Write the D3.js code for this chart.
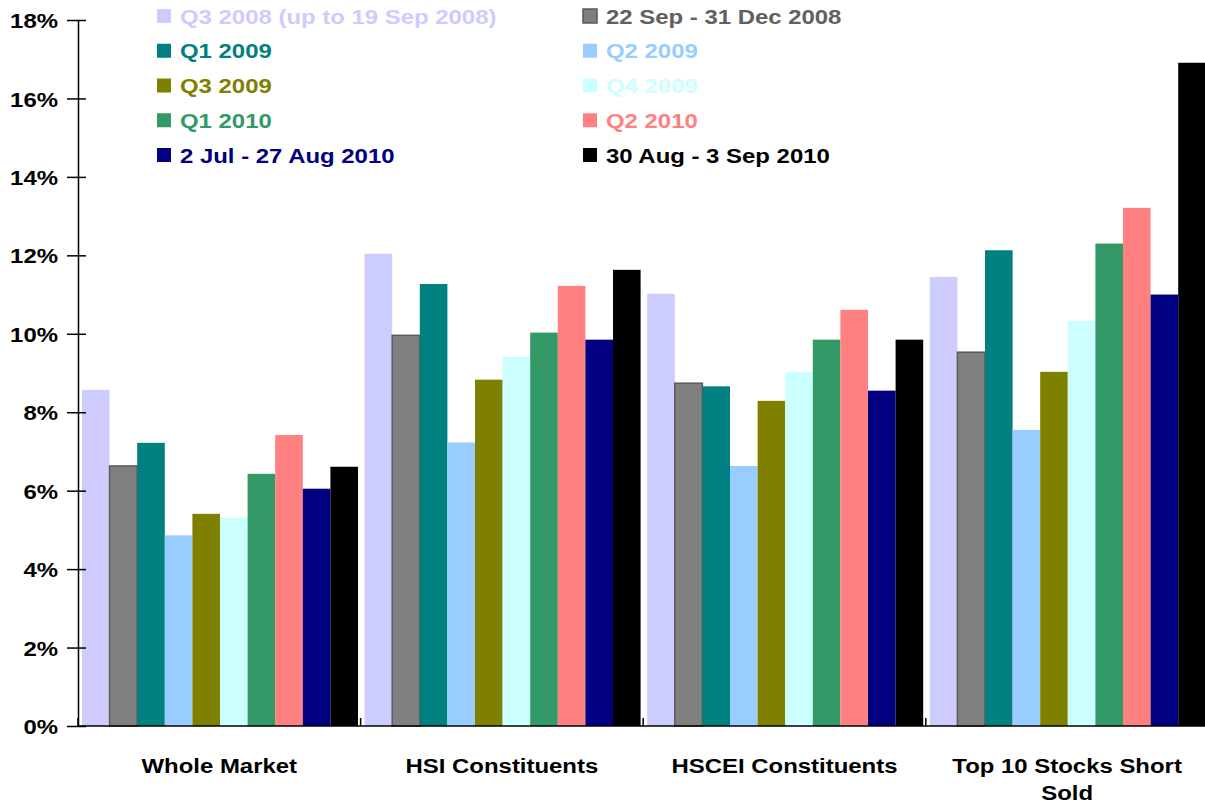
<!DOCTYPE html>
<html>
<head>
<meta charset="utf-8">
<script src="https://cdn.jsdelivr.net/npm/d3@7"></script>
<style>
  body { margin: 0; background: #fff; }
  svg text { font-family: "Liberation Sans", Arial, sans-serif; font-weight: bold; }
</style>
</head>
<body>
<svg id="chart" width="1205" height="810"></svg>
<script>
// categories and series
var categories = ["Whole Market", "HSI Constituents", "HSCEI Constituents", "Top 10 Stocks Short Sold"];
var seriesNames = ["Q3 2008 (up to 19 Sep 2008)", "22 Sep - 31 Dec 2008", "Q1 2009", "Q2 2009",
  "Q3 2009", "Q4 2009", "Q1 2010", "Q2 2010", "2 Jul - 27 Aug 2010", "30 Aug - 3 Sep 2010"];
var seriesColors = ["#ccccff", "#808080", "#008080", "#99ccff", "#808000",
  "#ccffff", "#339966", "#ff8080", "#000080", "#000000"];
var legendTextColors = ["#ccccff", "#606060", "#008080", "#99ccff", "#808000",
  "#ccffff", "#339966", "#ff8080", "#000080", "#000000"];

// values (%) per category, one per series
var wholeMarket = [8.57, 6.63, 7.22, 4.86, 5.41, 5.31, 6.43, 7.42, 6.05, 6.61];
var hsiConstituents = [12.04, 9.96, 11.27, 7.23, 8.83, 9.41, 10.03, 11.22, 9.85, 11.63];
var hsceiConstituents = [11.02, 8.74, 8.66, 6.63, 8.29, 9.03, 9.85, 10.61, 8.55, 9.85];
var top10Short = [11.45, 9.53, 12.13, 7.55, 9.03, 10.33, 12.30, 13.21, 11.00, 16.91];

var yTicks = [0, 2, 4, 6, 8, 10, 12, 14, 16, 18];

var valuesByCategory = [wholeMarket, hsiConstituents, hsceiConstituents, top10Short];
var stretch = 1.14;  // glyphs in the picture are a bit wider than normal

var svg = d3.select("#chart");
var left = 78, catW = 282.6;

var y = d3.scaleLinear().domain([0, 18]).range([726, 20]);
var x0 = d3.scaleBand().domain(categories).range([left, left + catW * 4]);
var x1 = d3.scaleBand().domain(seriesNames).range([4, 280]);

// bars
var groups = svg.append("g").selectAll("g")
  .data(categories)
  .join("g")
  .attr("transform", function(d){ return "translate(" + x0(d) + ",0)"; });

groups.selectAll("rect")
  .data(function(d, i){
    return valuesByCategory[i].map(function(v, j){ return {s: seriesNames[j], v: v, c: seriesColors[j]}; });
  })
  .join("rect")
  .attr("x", function(d){ return x1(d.s); })
  .attr("y", function(d){ return y(d.v); })
  .attr("width", x1.bandwidth())
  .attr("height", function(d){ return y(0) - y(d.v); })
  .attr("fill", function(d){ return d.c; })
  .attr("stroke", function(d){ return d.s == seriesNames[1] ? "#5a5a5a" : null; })
  .attr("stroke-width", 1.5);

// y axis
var yAxis = svg.append("g")
  .attr("transform", "translate(" + left + ",0)")
  .call(d3.axisLeft(y).tickValues(yTicks).tickFormat(function(d){ return d + "%"; })
    .tickSize(11).tickSizeOuter(0));
yAxis.select(".domain").attr("stroke", "#000").attr("stroke-width", 1.5);
yAxis.selectAll(".tick line").attr("x1", 8).attr("stroke", "#000").attr("stroke-width", 1.5);
yAxis.selectAll(".tick text")
  .attr("x", 0)
  .attr("dy", "0.36em")
  .attr("transform", "translate(-20,0) scale(" + stretch + ",1)")
  .attr("fill", "#000")
  .style("font-size", "21px");

// x axis line and separators
var xEnd = left + catW * 4;
svg.append("line")
  .attr("x1", left).attr("x2", xEnd)
  .attr("y1", y(0)).attr("y2", y(0))
  .attr("stroke", "#000").attr("stroke-width", 1.5);

var bounds = categories.map(function(c){ return x0(c); }).concat([xEnd]);
svg.append("g").selectAll("line")
  .data(bounds)
  .join("line")
  .attr("x1", function(d){ return d; }).attr("x2", function(d){ return d; })
  .attr("y1", y(0)).attr("y2", y(0) - 8)
  .attr("stroke", "#000").attr("stroke-width", 1.5);

// category labels, wrapped when too wide
svg.append("g").selectAll("text")
  .data(categories)
  .join("text")
  .attr("text-anchor", "middle")
  .attr("transform", function(d){ return "translate(" + (x0(d) + catW / 2) + ",773) scale(" + stretch + ",1)"; })
  .style("font-size", "21px")
  .each(function(d){
    var t = d3.select(this);
    var words = d.split(" "), line = [], lineNo = 0;
    var tspan = t.append("tspan").attr("x", 0).attr("dy", 0);
    words.forEach(function(w){
      line.push(w);
      tspan.text(line.join(" "));
      if (tspan.node().getComputedTextLength() * stretch > 250 && line.length > 1) {
        line.pop();
        tspan.text(line.join(" "));
        line = [w];
        lineNo++;
        tspan = t.append("tspan").attr("x", 0).attr("dy", 27).text(w);
      }
    });
  });

// legend, two columns
var legend = svg.append("g").selectAll("g")
  .data(seriesNames)
  .join("g")
  .attr("transform", function(d, i){
    var col = i % 2, row = Math.floor(i / 2);
    return "translate(" + (col == 0 ? 157 : 583) + "," + (16 + row * 34.75) + ")";
  });

legend.append("rect")
  .attr("x", 0).attr("y", -7)
  .attr("width", 14).attr("height", 14)
  .attr("fill", function(d, i){ return seriesColors[i]; })
  .attr("stroke", function(d, i){ return i == 1 ? "#5a5a5a" : null; })
  .attr("stroke-width", 1.5);

legend.append("text")
  .attr("transform", "translate(23,7.5) scale(" + stretch + ",1)")
  .attr("fill", function(d, i){ return legendTextColors[i]; })
  .style("font-size", "21px")
  .text(function(d){ return d; });
</script>
</body>
</html>
